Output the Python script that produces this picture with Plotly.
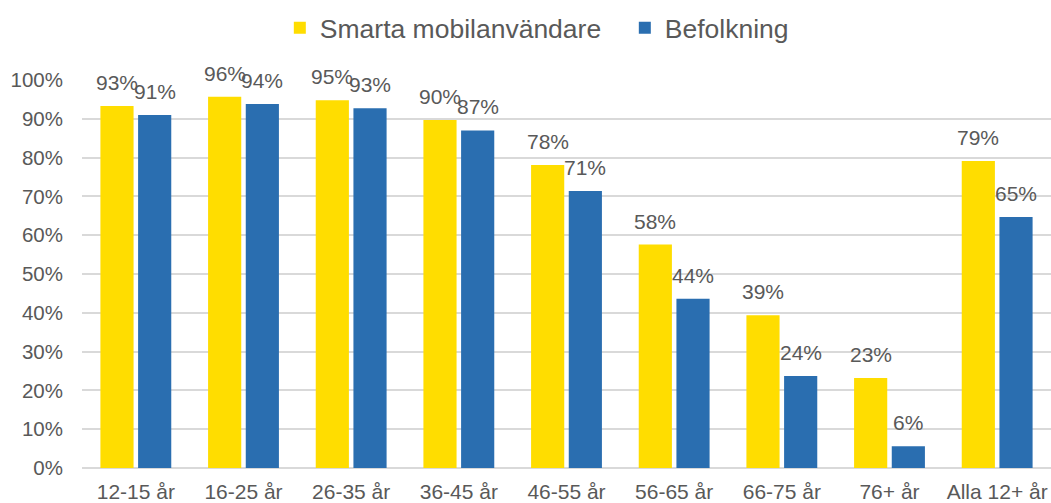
import plotly.graph_objects as go

categories = ["12-15 år", "16-25 år", "26-35 år", "36-45 år", "46-55 år",
              "56-65 år", "66-75 år", "76+ år", "Alla 12+ år"]
smarta = [93.3, 95.7, 94.8, 89.7, 78.1, 57.6, 39.4, 23.2, 79.1]
befolkning = [91.0, 93.8, 92.7, 87.0, 71.4, 43.6, 23.7, 5.6, 64.7]
series_names = ["Smarta mobilanvändare", "Befolkning"]
yticks = [0, 10, 20, 30, 40, 50, 60, 70, 80, 90, 100]
yticklabels = [f"{v}%" for v in yticks]

FONT = "Liberation Sans, Arial, sans-serif"
GREY = "#595959"

fig = go.Figure()
annotations = []
for name, vals, col, shift in [(series_names[0], smarta, "#FFDD00", -18.8),
                               (series_names[1], befolkning, "#2A6EB0", 18.8)]:
    fig.add_trace(go.Bar(
        name=name, x=categories, y=vals, marker_color=col,
        marker_line_width=0, hoverinfo="skip",
    ))
    for c, v in zip(categories, vals):
        annotations.append(dict(
            x=c, y=v, xref="x", yref="y", text=f"{round(v)}%", showarrow=False,
            xshift=shift, yshift=10, yanchor="bottom", xanchor="center",
            font=dict(family=FONT, size=21, color=GREY),
        ))

fig.update_layout(
    width=1051, height=503,
    margin=dict(l=82, r=0, t=80, b=35, autoexpand=False),
    paper_bgcolor="white", plot_bgcolor="white",
    barmode="group", bargap=0.30, bargroupgap=0.12,
    font=dict(family=FONT, color=GREY),
    annotations=annotations,
    legend=dict(orientation="h", xref="container", yref="container",
                x=0.5945, xanchor="center", y=1 - 28 / 503, yanchor="middle",
                font=dict(family=FONT, size=26.5, color=GREY),
                itemwidth=30, entrywidth=300, traceorder="normal"),
    xaxis=dict(showgrid=False, showline=False, ticks="",
               tickfont=dict(family=FONT, size=21, color=GREY), ticklabelstandoff=9),
    yaxis=dict(range=[0, 100], tickvals=yticks, ticktext=yticklabels,
               showgrid=True, gridcolor="#D9D9D9", gridwidth=1.8,
               zeroline=True, zerolinecolor="#D9D9D9", zerolinewidth=2,
               tickfont=dict(family=FONT, size=20.5, color=GREY), ticklabelstandoff=18),
)
fig.write_html("out.html", config={"displayModeBar": False},
               post_script="document.body.style.margin='0';")
